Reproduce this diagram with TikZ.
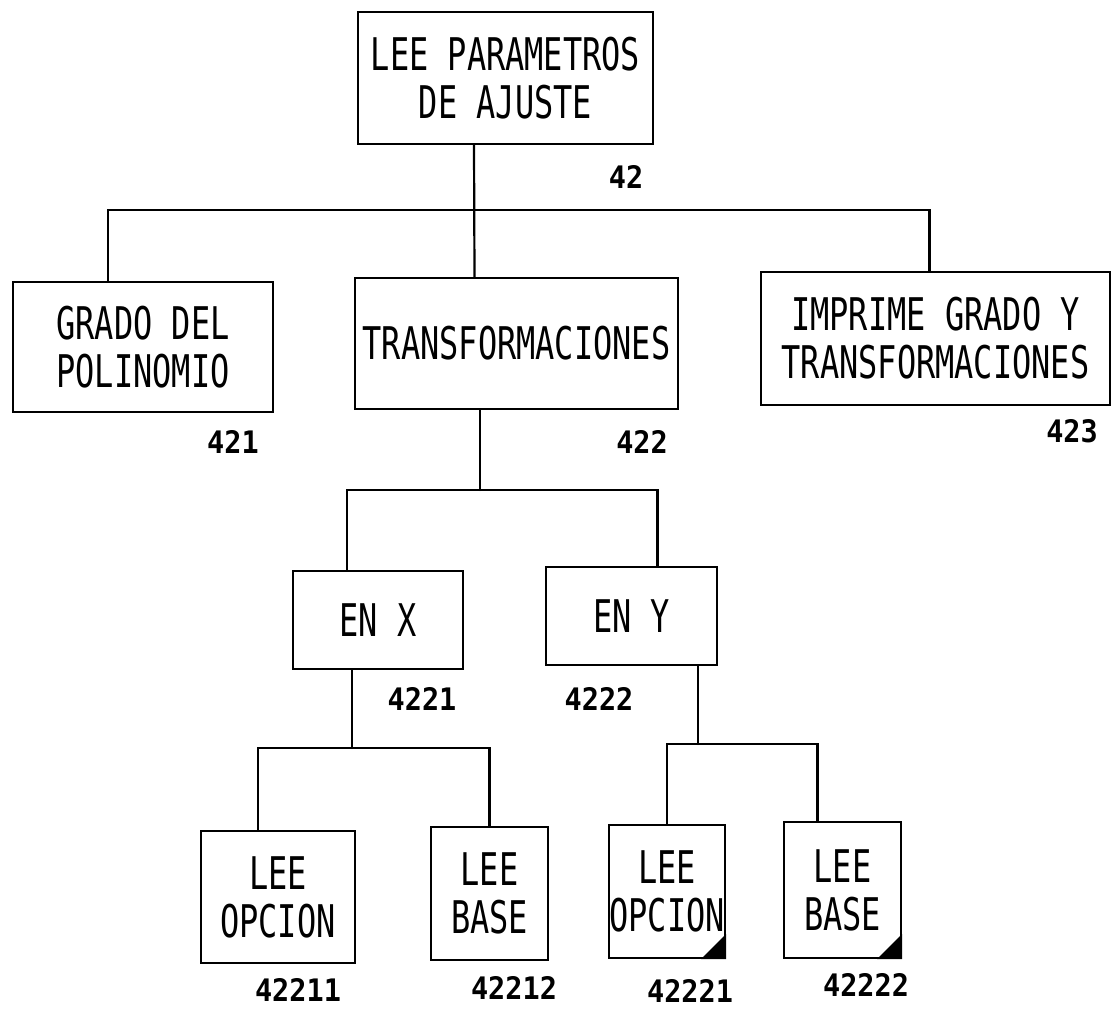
\documentclass[tikz,border=0pt]{standalone}
\usepackage{fontspec}
\newfontfamily\plotfont[FakeStretch=0.71]{DejaVu Sans Mono}
\newfontfamily\numfont[FakeStretch=0.92]{DejaVu Sans Mono}

\begin{document}
\begin{tikzpicture}[x=1pt, y=-1pt, line width=2.2pt, line cap=round, line join=miter,
    box/.style={draw, inner sep=0pt, align=center, font=\plotfont\fontsize{45}{48}\selectfont},
    num/.style={inner sep=0pt, font=\numfont\bfseries\fontsize{31}{36}\selectfont},
    wire/.style={line width=2.2pt}]
  %% ════ 方框（中心 + 宽高按原图量得）════
  \node[box, minimum width=295pt, minimum height=132pt] (n42)    at (505.5,78.0)  {LEE PARAMETROS\\DE AJUSTE};
  \node[box, minimum width=260pt, minimum height=130pt] (n421)   at (143.0,347.0) {GRADO DEL\\POLINOMIO};
  \node[box, minimum width=323pt, minimum height=131pt] (n422)   at (516.5,343.5) {TRANSFORMACIONES};
  \node[box, minimum width=349pt, minimum height=133pt] (n423)   at (935.5,338.5) {IMPRIME GRADO Y\\TRANSFORMACIONES};
  \node[box, minimum width=170pt, minimum height=98pt]  (n4221)  at (378.0,620.0) {EN X};
  \node[box, minimum width=171pt, minimum height=98pt]  (n4222)  at (631.5,616.0) {EN Y};
  \node[box, minimum width=154pt, minimum height=132pt] (n42211) at (278.0,897.0) {LEE\\OPCION};
  \node[box, minimum width=117pt, minimum height=133pt] (n42212) at (489.5,893.5) {LEE\\BASE};
  \node[box, minimum width=116pt, minimum height=133pt] (n42221) at (667.0,891.5) {LEE\\OPCION};
  \node[box, minimum width=117pt, minimum height=136pt] (n42222) at (842.5,890.0) {LEE\\BASE};

  %% ════ 右下角的黑三角 ════
  \fill (n42221.south east) -- ++(-25,0) -- ++(25,-25) -- cycle;
  \fill (n42222.south east) -- ++(-25,0) -- ++(25,-25) -- cycle;

  %% ════ 连线（折线，汇流点用 coordinate）════
  \coordinate (j42)   at (474,210);
  \coordinate (j422)  at (480,490);
  \coordinate (j4221) at (352,748);
  \coordinate (j4222) at (698,744);
  \draw[wire] (n42.south -| j42) -- ([xshift=-42pt]n422.north);
  \draw[wire] ([xshift=-35pt]n421.north) |- (j42) -| ([xshift=-6pt]n423.north);
  \draw[wire] (n422.south -| j422) -- (j422);
  \draw[wire] ([xshift=-31pt]n4221.north) |- (j422) -| ([xshift=26pt]n4222.north);
  \draw[wire] (n4221.south -| j4221) -- (j4221);
  \draw[wire] ([xshift=-20pt]n42211.north) |- (j4221) -| (n42212.north);
  \draw[wire] (n4222.south -| j4222) -- (j4222);
  \draw[wire] (n42221.north) |- (j4222) -| ([xshift=-25pt]n42222.north);

  %% ════ 编号 ════
  \node[num] (l42)    at (626,177)  {42};
  \node[num] (l421)   at (233,442)  {421};
  \node[num] (l422)   at (642,442)  {422};
  \node[num] (l423)   at (1072,431) {423};
  \node[num] (l4221)  at (422,699)  {4221};
  \node[num] (l4222)  at (599,699)  {4222};
  \node[num] (l42211) at (298,990)  {42211};
  \node[num] (l42212) at (514,988)  {42212};
  \node[num] (l42221) at (690,991)  {42221};
  \node[num] (l42222) at (866,985)  {42222};

  % 钉死画布
  \pgfresetboundingbox
  \path[use as bounding box] (0,0) rectangle (1114,1011);
\end{tikzpicture}
\end{document}
